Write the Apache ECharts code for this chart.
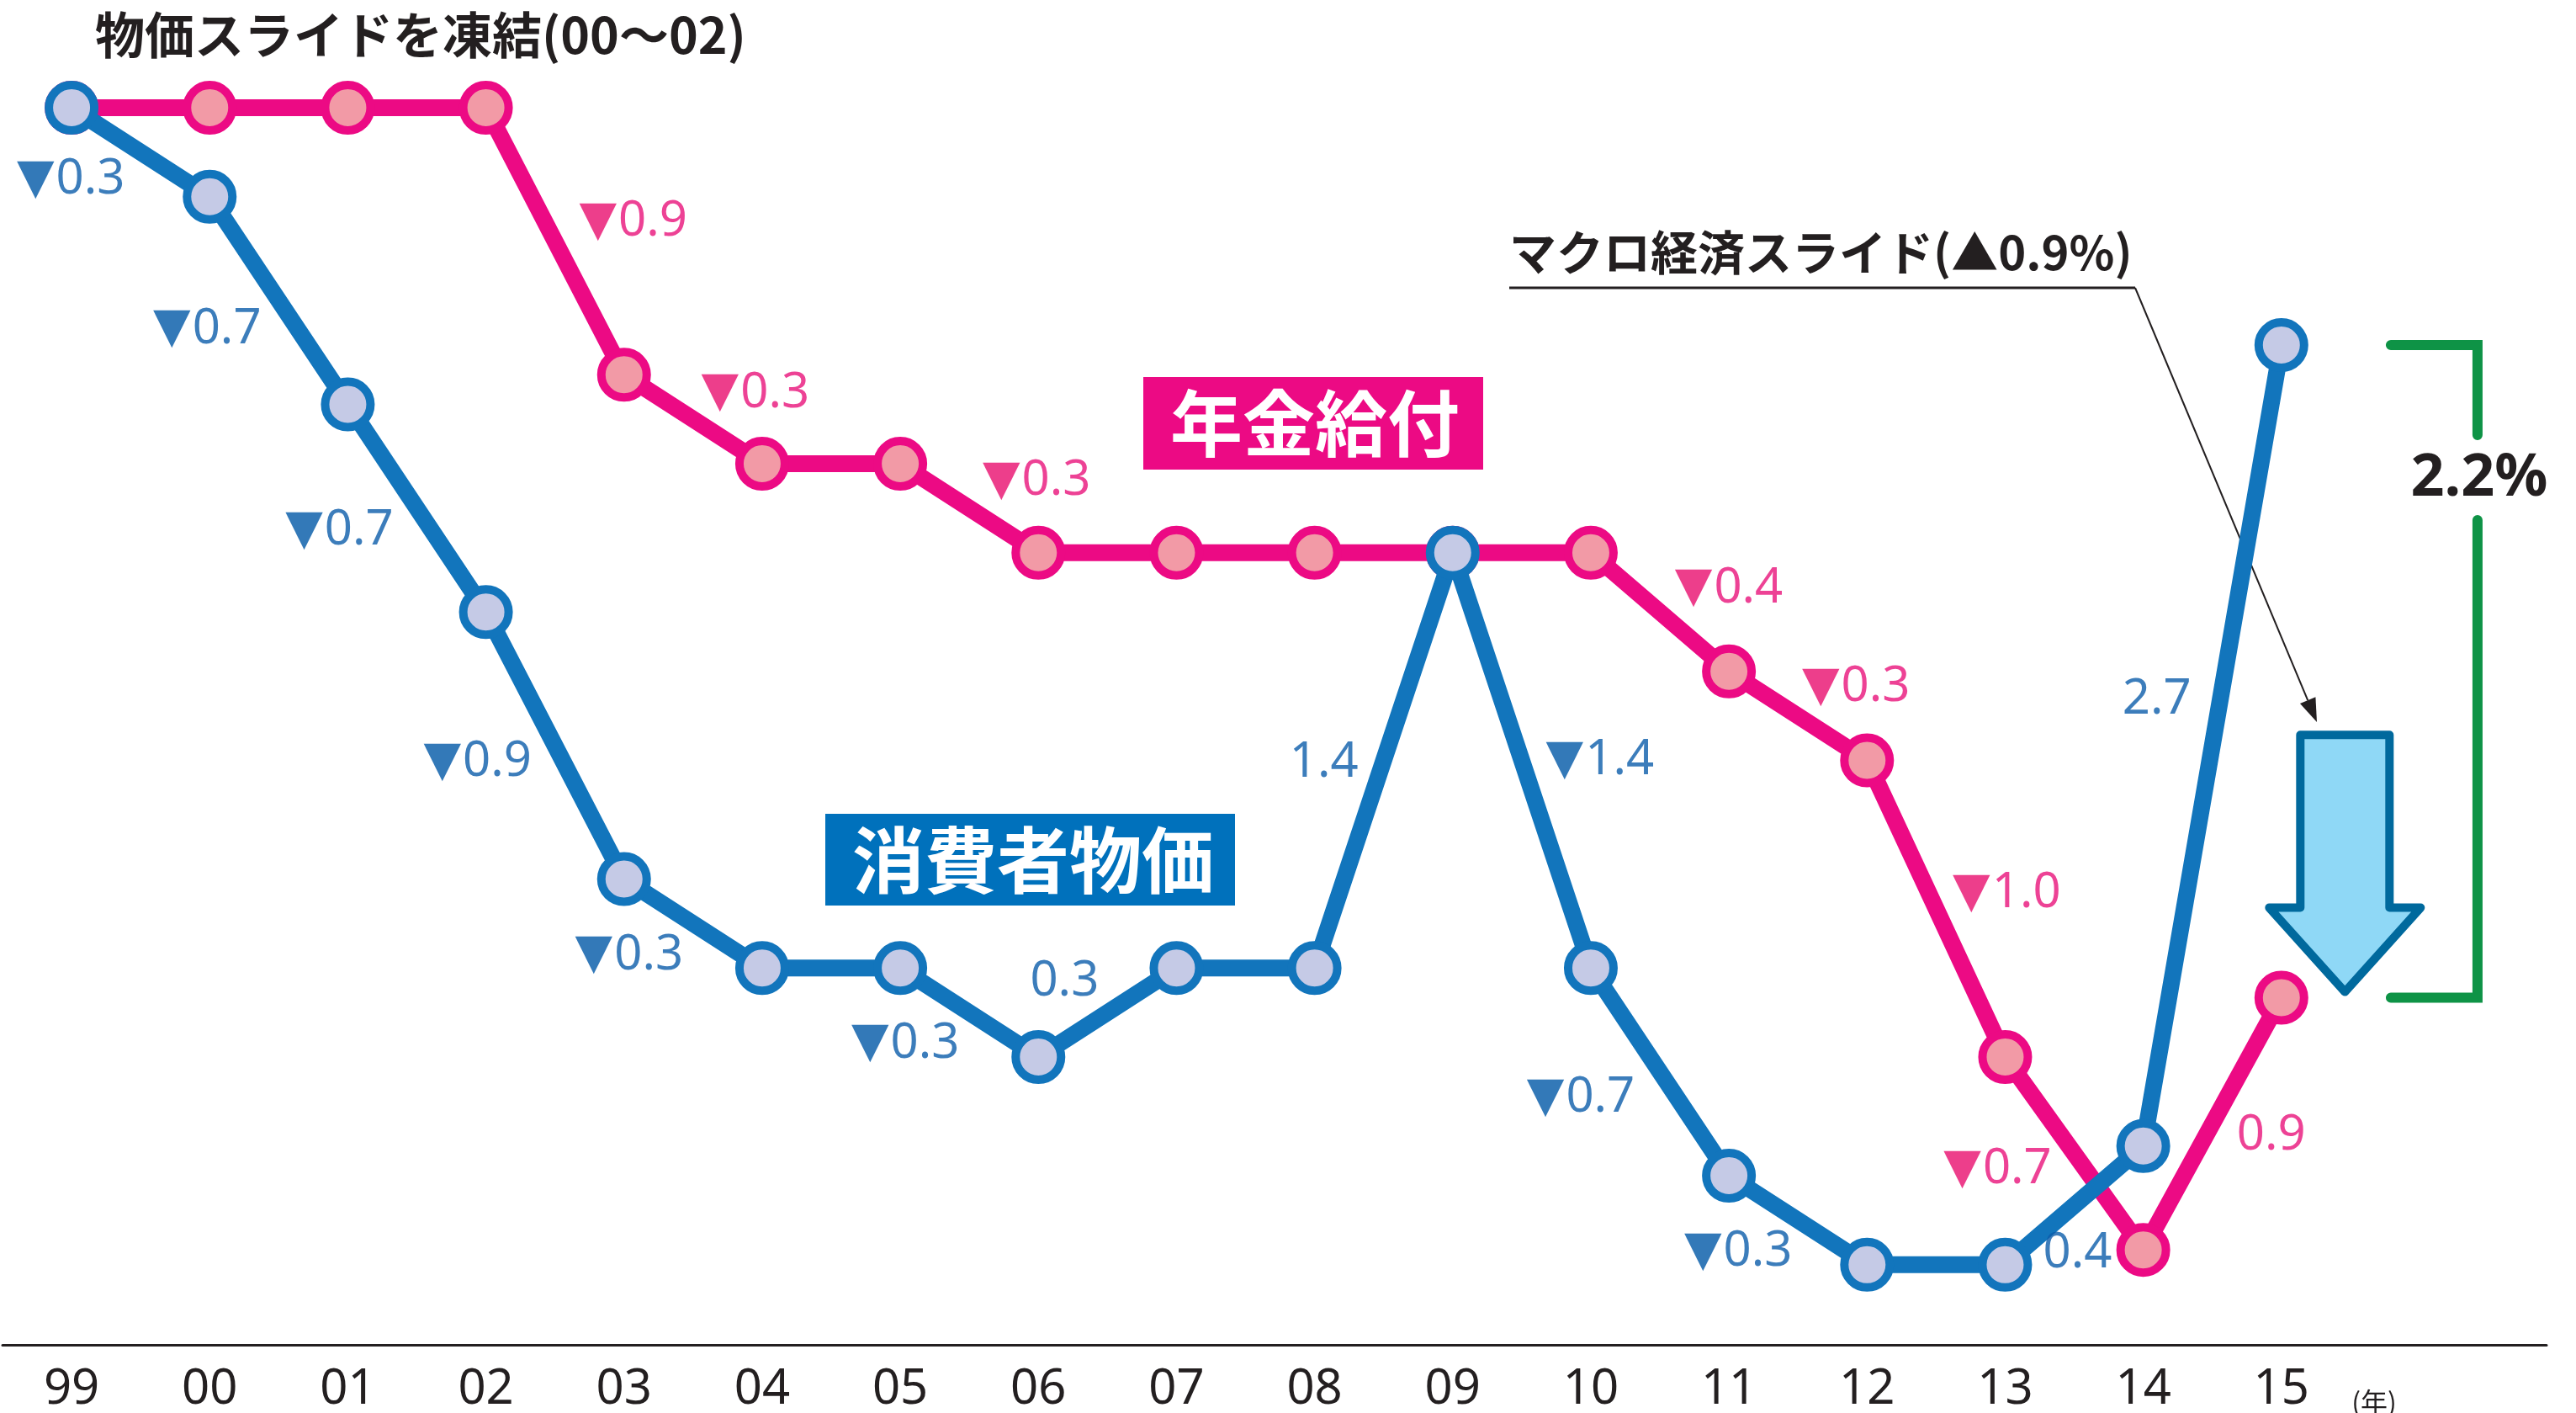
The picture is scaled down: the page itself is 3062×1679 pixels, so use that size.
<!DOCTYPE html>
<html>
<head>
<meta charset="utf-8">
<script src="https://cdn.jsdelivr.net/npm/echarts@6/dist/echarts.min.js"></script>
<style>
  html, body { margin: 0; padding: 0; background: #fff; }
  #chart { width: 3062px; height: 1679px; }
</style>
</head>
<body>
<div id="chart"></div>
<script>
// x axis years
const years = ['99', '00', '01', '02', '03', '04', '05', '06', '07', '08', '09', '10', '11', '12', '13', '14', '15'];

// cumulative level since 99 (%)
const cpiLevel = [0, -0.3, -1.0, -1.7, -2.6, -2.9, -2.9, -3.2, -2.9, -2.9, -1.5, -2.9, -3.6, -3.9, -3.9, -3.5, -0.8];
const pensionLevel = [0, 0, 0, 0, -0.9, -1.2, -1.2, -1.5, -1.5, -1.5, -1.5, -1.5, -1.9, -2.2, -3.2, -3.85, -3.0];

// yearly change labels, entry i = change from year i-1 to year i
const cpiChange = [null, '▼0.3', '▼0.7', '▼0.7', '▼0.9', '▼0.3', null, '▼0.3', '0.3', null, '1.4', '▼1.4', '▼0.7', '▼0.3', null, '0.4', '2.7'];
const pensionChange = [null, null, null, null, '▼0.9', '▼0.3', null, '▼0.3', null, null, null, null, '▼0.4', '▼0.3', '▼1.0', '▼0.7', '0.9'];

// macro economic slide applied in 15
const macroSlide = 0.9;
const gapLabel = '2.2%';

// label placement (pixels from the segment midpoint)
const cpiLabelOffset = {
  1: [-83, 33], 2: [-85, 34], 3: [-92, 27], 4: [-92, 20], 5: [-76, 38], 7: [-76, 37], 8: [-51, -37],
  10: [-71, 3], 11: [93, 0], 12: [-94, 31], 13: [-71, 38], 15: [4, 57], 16: [-66, -54]
};
const pensionLabelOffset = {
  4: [93, -23], 5: [74, -31], 7: [80, -32], 12: [82, -28], 13: [69, -34], 14: [84, -18], 15: [-91, 19], 16: [70, 14]
};

const PINK = '#EC0A84';
const PINK_FILL = '#F29AA6';
const BLUE = '#1275BC';
const BLUE_FILL = '#C5CAE6';
const DARK = '#231F20';
const NUM_FONT = '"Noto Sans", sans-serif';
const JP_FONT = '"Noto Sans CJK JP", sans-serif';

const chart = echarts.init(document.getElementById('chart'), null, { renderer: 'canvas' });

function changeLabelSeries(levels, texts, offsets, textColor, triColor) {
  const data = [];
  texts.forEach((t, i) => {
    if (!t) return;
    const down = t.startsWith('▼');
    data.push({
      value: [i - 0.5, (levels[i - 1] + levels[i]) / 2],
      label: {
        offset: offsets[i],
        formatter: down ? '{t|▼}{n|' + t.slice(1) + '}' : '{n|' + t + '}'
      }
    });
  });
  return {
    type: 'scatter',
    silent: true,
    symbolSize: 1,
    itemStyle: { color: 'rgba(0,0,0,0)' },
    z: 5,
    label: {
      show: true,
      position: 'inside',
      align: 'center',
      verticalAlign: 'middle',
      rich: {
        t: { color: triColor, fontSize: 58, fontFamily: '"DejaVu Sans", sans-serif', padding: [0, 2, 0, 0] },
        n: { color: textColor, fontSize: 58, fontFamily: NUM_FONT }
      }
    },
    data
  };
}

function lineSeries(name, levels, line, fill, z) {
  return {
    type: 'line',
    name,
    data: levels.map((v, i) => [i, v]),
    symbol: 'circle',
    symbolSize: 54,
    lineStyle: { color: line, width: 20 },
    itemStyle: { color: fill, borderColor: line, borderWidth: 10 },
    z
  };
}

const last = years.length - 1;

// green bracket between the two 15 levels
const bracketSeries = {
  type: 'custom',
  silent: true,
  z: 3,
  data: [[cpiLevel[last], pensionLevel[last]]],
  renderItem: (params, api) => {
    const top = api.coord([17.42, api.value(0)]);
    const bot = api.coord([17.42, api.value(1)]);
    const xR = top[0];
    const xL = xR - 103;
    const style = { stroke: '#0E9346', lineWidth: 12, fill: null, lineCap: 'round', lineJoin: 'miter' };
    return {
      type: 'group',
      children: [
        { type: 'polyline', shape: { points: [[xL, top[1]], [xR, top[1]], [xR, top[1] + 107]] }, style },
        { type: 'polyline', shape: { points: [[xR, top[1] + 208], [xR, bot[1]], [xL, bot[1]]] }, style },
        {
          type: 'text',
          x: xR + 2,
          y: top[1] + 159,
          style: {
            text: gapLabel, fill: DARK, fontSize: 70, fontWeight: 'bold', fontFamily: NUM_FONT,
            align: 'center', verticalAlign: 'middle'
          }
        }
      ]
    };
  }
};

// big down arrow = macro economic slide
const arrowSeries = {
  type: 'custom',
  silent: true,
  z: 3,
  data: [[pensionLevel[last] + macroSlide, pensionLevel[last]]],
  renderItem: (params, api) => {
    const a = api.coord([16.46, api.value(0)]);
    const b = api.coord([16.46, api.value(1)]);
    const cx = a[0];
    const top = a[1] + 5;
    const tip = b[1] - 7;
    const base = tip - 100;
    const sw = 53;
    const hw = 90;
    return {
      type: 'polygon',
      shape: {
        points: [[cx - sw, top], [cx + sw, top], [cx + sw, base], [cx + hw, base], [cx, tip], [cx - hw, base], [cx - sw, base]]
      },
      style: { fill: '#8FD8F6', stroke: '#00699D', lineWidth: 10, lineJoin: 'round' }
    };
  }
};

// leader line from the callout to the arrow
const leadStart = [2538, 342];
const leadEnd = [2754, 858];
const dx = leadEnd[0] - leadStart[0];
const dy = leadEnd[1] - leadStart[1];
const len = Math.sqrt(dx * dx + dy * dy);
const ux = dx / len, uy = dy / len;
const headBack = [leadEnd[0] - ux * 28, leadEnd[1] - uy * 28];

chart.setOption({
  animation: false,
  backgroundColor: '#fff',
  grid: { left: 3, right: 35, top: 22.25, bottom: 81, outerBoundsMode: 'none', containLabel: false },
  xAxis: {
    type: 'value',
    min: -0.5,
    max: 17.92,
    splitLine: { show: false },
    axisTick: { show: false },
    axisLine: { onZero: false, lineStyle: { color: DARK, width: 3 } },
    axisLabel: {
      customValues: years.map((_, i) => i),
      formatter: (v) => years[Math.round(v)],
      color: DARK,
      fontSize: 58,
      fontFamily: NUM_FONT,
      margin: 24
    }
  },
  yAxis: {
    type: 'value',
    min: -4.17,
    max: 0.3,
    show: false
  },
  series: [
    lineSeries('年金給付', pensionLevel, PINK, PINK_FILL, 2),
    lineSeries('消費者物価', cpiLevel, BLUE, BLUE_FILL, 3),
    changeLabelSeries(cpiLevel, cpiChange, cpiLabelOffset, '#0B5DAA', '#0058A6'),
    changeLabelSeries(pensionLevel, pensionChange, pensionLabelOffset, '#E8137A', '#E80E6E'),
    arrowSeries,
    bracketSeries
  ],
  graphic: [
    {
      type: 'text', left: 113, top: 12,
      style: { text: '物価スライドを凍結(00〜02)', fill: DARK, fontSize: 59, fontWeight: 'bold', fontFamily: JP_FONT }
    },
    {
      type: 'group', left: 1359, top: 448,
      children: [
        { type: 'rect', shape: { x: 0, y: 0, width: 404, height: 110 }, style: { fill: PINK } },
        {
          type: 'text', x: 204, y: 55,
          style: { text: '年金給付', fill: '#fff', fontSize: 86, fontWeight: 'bold', fontFamily: JP_FONT, align: 'center', verticalAlign: 'middle' }
        }
      ]
    },
    {
      type: 'group', left: 981, top: 967,
      children: [
        { type: 'rect', shape: { x: 0, y: 0, width: 487, height: 109 }, style: { fill: '#0071BC' } },
        {
          type: 'text', x: 247, y: 55,
          style: { text: '消費者物価', fill: '#fff', fontSize: 86, fontWeight: 'bold', fontFamily: JP_FONT, align: 'center', verticalAlign: 'middle' }
        }
      ]
    },
    {
      type: 'text', x: 1794, y: 300,
      style: { text: 'マクロ経済スライド(▲0.9%)', fill: DARK, fontSize: 56, fontWeight: 'bold', fontFamily: JP_FONT, verticalAlign: 'middle' }
    },
    {
      type: 'line', shape: { x1: 1794, y1: 342, x2: leadStart[0], y2: leadStart[1] },
      style: { stroke: DARK, lineWidth: 3 }
    },
    {
      type: 'line', shape: { x1: leadStart[0], y1: leadStart[1], x2: headBack[0], y2: headBack[1] },
      style: { stroke: DARK, lineWidth: 2 }
    },
    {
      type: 'polygon',
      shape: {
        points: [
          leadEnd,
          [headBack[0] - uy * 10, headBack[1] + ux * 10],
          [headBack[0] + uy * 10, headBack[1] - ux * 10]
        ]
      },
      style: { fill: DARK }
    },
    {
      type: 'text', x: 2822, y: 1666,
      style: { text: '(年)', fill: DARK, fontSize: 32, fontFamily: JP_FONT, align: 'center', verticalAlign: 'middle' }
    }
  ]
});

window.addEventListener('resize', () => chart.resize());
</script>
</body>
</html>
